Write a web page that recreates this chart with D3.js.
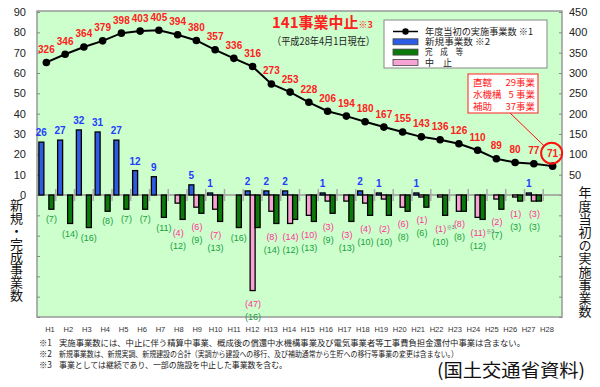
<!DOCTYPE html>
<html>
<head>
<meta charset="utf-8">
<script src="https://cdn.jsdelivr.net/npm/d3@7"></script>
<style>
  body { margin: 0; background: #fff; }
  svg { display: block; font-family: "Liberation Sans", "Noto Sans CJK JP", sans-serif; }
</style>
</head>
<body>
<div id="chart"></div>
<script>
// ---- data ----
const years = ["H1","H2","H3","H4","H5","H6","H7","H8","H9","H10","H11","H12","H13","H14",
  "H15","H16","H17","H18","H19","H20","H21","H22","H23","H24","H25","H26","H27","H28"];
// 年度当初の実施事業数 (right axis)
const ongoing = [326,346,364,379,398,403,405,394,380,357,336,316,273,253,228,206,194,180,167,155,143,136,126,110,89,80,77,71];
// 新規事業数
const started = [26,27,32,31,27,12,9,0,5,1,0,2,2,2,0,1,0,2,1,0,1,0,0,0,0,0,1,0];
// 中止
const cancelled = [0,0,0,0,0,0,0,4,6,7,0,47,8,14,10,3,3,4,2,6,1,1,8,11,2,1,3,0];
// 完成等
const completed = [7,14,16,8,7,7,11,12,9,13,16,16,14,12,13,9,13,10,10,8,6,10,8,12,7,3,3,0];
const noteYears = ["H22","H24"];   // 中止 labels carrying ※3

const leftTicks = d3.range(-60, 91, 10);
const rightTicks = d3.range(-300, 451, 50);

const insetNames = ["直轄", "水機構", "補助"];
const insetCounts = ["29事業", "5 事業", "37事業"];

const legendLabels = ["年度当初の実施事業数 ※1", "新規事業数 ※2", "完　成　等", "中　止"];
const legendWidths = [108, 65, 38, 27];
const footMarks = ["※1", "※2", "※3"];
const footTexts = [
  "実施事業数には、中止に伴う精算中事業、概成後の償還中水機構事業及び電気事業者等工事費負担金還付中事業は含まない。",
  "新規事業数は、新規実調、新規建設の合計（実調から建設への移行、及び補助通常から生貯への移行等事業の変更は含まない。）",
  "事業としては継続であり、一部の施設を中止した事業数を含む。"
];
const footWidths = [466, 399, 228];

// ---- layout ----
const W = 600, H = 387;
const pl = 37, pr = 562, pt = 12, pb = 317;

const colBlue = "#2d5be3", colGreen = "#0b7a0b", colPink = "#f7a3d3";

const svg = d3.select("#chart").append("svg")
  .attr("width", W).attr("height", H);

const x = d3.scaleBand().domain(years).range([pl, pr]).paddingInner(0.2).paddingOuter(0.1);
const sub = d3.scaleBand().domain(["new", "cancel", "done"]).range([0, x.bandwidth()]);
const xc = d => x(d) + x.bandwidth() / 2;
const xLab = d3.scalePoint().domain(years).range([50, 547]);

const yL = d3.scaleLinear().domain([-60, 90]).range([pb, pt]);
const yR = d3.scaleLinear().domain([-300, 450]).range([pb, pt]);
const y0 = yL(0);

// plot background
svg.append("rect")
  .attr("x", pl).attr("y", pt - 1).attr("width", pr - pl).attr("height", pb - pt + 1)
  .attr("fill", "#ccffcc").attr("stroke", "#999").attr("stroke-width", 1.5);

// axes
const axL = svg.append("g").attr("transform", `translate(${pl},0)`)
  .call(d3.axisLeft(yL).tickValues(leftTicks).tickSize(-3).tickPadding(11)
    .tickFormat(d => d >= 0 ? d : ""));
const axR = svg.append("g").attr("transform", `translate(${pr},0)`)
  .call(d3.axisRight(yR).tickValues(rightTicks).tickSize(-3).tickPadding(7)
    .tickFormat(d => d > 0 ? d : ""));
[axL, axR].forEach(g => {
  g.select(".domain").remove();
  g.selectAll("line").attr("stroke", "#888");
  g.selectAll("text").attr("font-size", 11).attr("fill", "#222")
    .attr("font-family", "Liberation Sans, sans-serif");
});

// x labels
svg.append("g").selectAll("text")
  .data(years)
  .join("text")
    .attr("x", d => xLab(d))
    .attr("y", 332)
    .attr("text-anchor", "middle")
    .attr("font-size", 7.5)
    .attr("fill", "#333")
    .text(d => d);

// zero line with category separators
svg.append("line")
  .attr("x1", pl).attr("x2", pr).attr("y1", y0).attr("y2", y0)
  .attr("stroke", "#999").attr("stroke-width", 1.5);
svg.append("g").selectAll("line")
  .data(years.slice(1))
  .join("line")
    .attr("x1", d => x(d) - x.step() * 0.1)
    .attr("x2", d => x(d) - x.step() * 0.1)
    .attr("y1", y0 - 6).attr("y2", y0 + 6)
    .attr("stroke", "#aaa").attr("stroke-width", 1.5);

// bars
const rows = years.map((yr, i) => ({
  yr, s: started[i], c: cancelled[i], f: completed[i], n: ongoing[i]
}));

const bars = svg.append("g").attr("stroke", "#000").attr("stroke-width", 1.3);
bars.selectAll(".new")
  .data(rows.filter(d => d.s > 0))
  .join("rect")
    .attr("x", d => x(d.yr) + sub("new"))
    .attr("width", sub.bandwidth())
    .attr("y", d => yL(d.s))
    .attr("height", d => y0 - yL(d.s))
    .attr("fill", colBlue);
bars.selectAll(".cancel")
  .data(rows.filter(d => d.c > 0))
  .join("rect")
    .attr("x", d => x(d.yr) + sub("cancel"))
    .attr("width", sub.bandwidth())
    .attr("y", y0)
    .attr("height", d => yL(-d.c) - y0)
    .attr("fill", colPink);
bars.selectAll(".done")
  .data(rows.filter(d => d.f > 0))
  .join("rect")
    .attr("x", d => x(d.yr) + sub("done"))
    .attr("width", sub.bandwidth())
    .attr("y", y0)
    .attr("height", d => yL(-d.f) - y0)
    .attr("fill", colGreen);

// bar labels
const lab = svg.append("g").attr("font-size", 9).attr("text-anchor", "middle");
lab.selectAll(".sl")
  .data(rows.filter(d => d.s > 0))
  .join("text")
    .attr("x", d => x(d.yr) + sub("new") + sub.bandwidth() / 2)
    .attr("y", d => yL(d.s) - 6)
    .attr("font-size", 10)
    .attr("fill", "#1f3cff")
    .attr("font-weight", "bold")
    .text(d => d.s);

// label y (centre) for 中止 / 完成 numbers
const cancelY = d => yL(-Math.max(d.c, d.f)) + 13;
const doneY = d => d.c > 0 ? cancelY(d) + 13 : yL(-d.f) + 10;
const pairX = d => x(d.yr) + sub("done") - 2;

lab.selectAll(".cl")
  .data(rows.filter(d => d.c > 0))
  .join("text")
    .attr("x", d => pairX(d))
    .attr("y", d => cancelY(d) + 3.2)
    .attr("fill", "#ff3399")
    .text(d => `(${d.c})`);
lab.selectAll(".fl")
  .data(rows.filter(d => d.f > 0))
  .join("text")
    .attr("x", d => d.c > 0 ? pairX(d) : x(d.yr) + sub("done") + sub.bandwidth() / 2)
    .attr("y", d => doneY(d) + 3.2)
    .attr("fill", "#18a040")
    .text(d => `(${d.f})`);
lab.selectAll(".note")
  .data(rows.filter(d => noteYears.includes(d.yr)))
  .join("text")
    .attr("x", d => pairX(d) + (d.c > 9 ? 8 : 6))
    .attr("y", d => cancelY(d) + 0.5)
    .attr("text-anchor", "start")
    .attr("font-size", 5)
    .attr("fill", "#666")
    .text("※3");

// ongoing line
const line = d3.line().x(d => xc(d.yr)).y(d => yR(d.n));
svg.append("path")
  .datum(rows)
  .attr("d", line)
  .attr("fill", "none").attr("stroke", "#000").attr("stroke-width", 2);
svg.append("g").selectAll("circle")
  .data(rows)
  .join("circle")
    .attr("cx", d => xc(d.yr)).attr("cy", d => yR(d.n)).attr("r", 3.8)
    .attr("fill", "#000");
svg.append("g").selectAll("text")
  .data(rows)
  .join("text")
    .attr("x", d => xc(d.yr))
    .attr("y", d => yR(d.n) - 9.5)
    .attr("text-anchor", "middle")
    .attr("font-size", 10).attr("font-weight", "bold")
    .attr("fill", "#ff2020")
    .text(d => d.n);

// circle around the latest value and the inset box
const last = rows[rows.length - 1];
const cx0 = xc(last.yr) - 1, cy0 = yR(last.n) - 13, rr = 10.5;
svg.append("circle")
  .attr("cx", cx0).attr("cy", cy0).attr("r", rr)
  .attr("fill", "none").attr("stroke", "#ff1010").attr("stroke-width", 2);

const box = { x: 468, y: 74, w: 70, h: 39 };
const lx = 510, ly = box.y + box.h;
const ang = Math.atan2(cy0 - ly, cx0 - lx);
svg.append("line")
  .attr("x1", lx).attr("y1", ly)
  .attr("x2", cx0 - rr * Math.cos(ang)).attr("y2", cy0 - rr * Math.sin(ang))
  .attr("stroke", "#ff1010").attr("stroke-width", 1);
svg.append("rect")
  .attr("x", box.x).attr("y", box.y).attr("width", box.w).attr("height", box.h)
  .attr("fill", "#fff").attr("stroke", "#ff2020").attr("stroke-width", 1);
const inset = svg.append("g").attr("font-size", 9.5).attr("fill", "#ff1a1a")
  .attr("font-family", "Noto Sans CJK JP, sans-serif");
inset.selectAll(".nm")
  .data(insetNames)
  .join("text")
    .attr("x", box.x + 5)
    .attr("y", (d, i) => 85.5 + i * 12)
    .text(d => d);
inset.selectAll(".ct")
  .data(insetCounts)
  .join("text")
    .attr("x", box.x + box.w - 3)
    .attr("y", (d, i) => 85.5 + i * 12)
    .attr("text-anchor", "end")
    .text(d => d);

// legend
const lg = svg.append("g");
lg.append("rect")
  .attr("x", 384).attr("y", 20).attr("width", 163).attr("height", 48)
  .attr("fill", "#fff").attr("stroke", "#888").attr("stroke-width", 1);
const lgY = i => 31.5 + i * 10.3;
lg.append("line")
  .attr("x1", 393).attr("x2", 418).attr("y1", lgY(0)).attr("y2", lgY(0))
  .attr("stroke", "#000").attr("stroke-width", 1.5);
lg.append("circle").attr("cx", 405.5).attr("cy", lgY(0)).attr("r", 3.2).attr("fill", "#000");
lg.selectAll(".sw")
  .data([colBlue, colGreen, colPink])
  .join("rect")
    .attr("x", 393).attr("width", 25)
    .attr("y", (d, i) => lgY(i + 1) - 3).attr("height", 6)
    .attr("fill", d => d)
    .attr("stroke", "#444").attr("stroke-width", 0.8);
lg.selectAll("text")
  .data(legendLabels)
  .join("text")
    .attr("x", 425)
    .attr("y", (d, i) => lgY(i) + 3.2)
    .attr("font-size", 8.6)
    .attr("fill", "#222")
    .attr("font-family", "Noto Sans CJK JP, sans-serif")
    .attr("textLength", (d, i) => legendWidths[i])
    .attr("lengthAdjust", "spacingAndGlyphs")
    .text(d => d);

// title
const title = svg.append("text")
  .attr("x", 272).attr("y", 28)
  .attr("fill", "#ff2020").attr("font-weight", "bold")
  .attr("font-family", "Noto Sans CJK JP, sans-serif");
title.append("tspan").attr("font-size", 15).text("141事業中止");
title.append("tspan").attr("font-size", 9).text("※3");
svg.append("text")
  .attr("x", 272).attr("y", 45)
  .attr("font-size", 10.5).attr("fill", "#222")
  .attr("font-family", "Noto Sans CJK JP, sans-serif")
  .attr("textLength", 103).attr("lengthAdjust", "spacingAndGlyphs")
  .text("（平成28年4月1日現在）");

// vertical axis titles (one text each, set vertically)
const vTitle = (str, cx, top, size, gap) => {
  svg.append("text")
    .attr("x", cx)
    .attr("y", top)
    .attr("font-size", size)
    .attr("letter-spacing", gap)
    .attr("fill", "#111")
    .attr("font-family", "Noto Sans CJK JP, sans-serif")
    .style("writing-mode", "vertical-rl")
    .text(str);
};
vTitle("新規・完成事業数", 16.5, 199, 13, -0.2);
vTitle("年度当初の実施事業数", 585, 186, 13, 0.2);

// footnotes
const fn = svg.append("g").attr("font-size", 8.3).attr("fill", "#222")
  .attr("font-family", "Noto Sans CJK JP, sans-serif");
fn.selectAll(".mk")
  .data(footMarks)
  .join("text")
    .attr("x", 39).attr("y", (d, i) => 346 + i * 11)
    .text(d => d);
fn.selectAll(".tx")
  .data(footTexts)
  .join("text")
    .attr("x", 59).attr("y", (d, i) => 346 + i * 11)
    .attr("textLength", (d, i) => footWidths[i])
    .attr("lengthAdjust", "spacingAndGlyphs")
    .text(d => d);

svg.append("text")
  .attr("x", 437).attr("y", 377)
  .attr("font-size", 18).attr("fill", "#111")
  .attr("font-family", "Noto Sans CJK JP, sans-serif")
  .attr("textLength", 148).attr("lengthAdjust", "spacingAndGlyphs")
  .text("(国土交通省資料)");
</script>
</body>
</html>
